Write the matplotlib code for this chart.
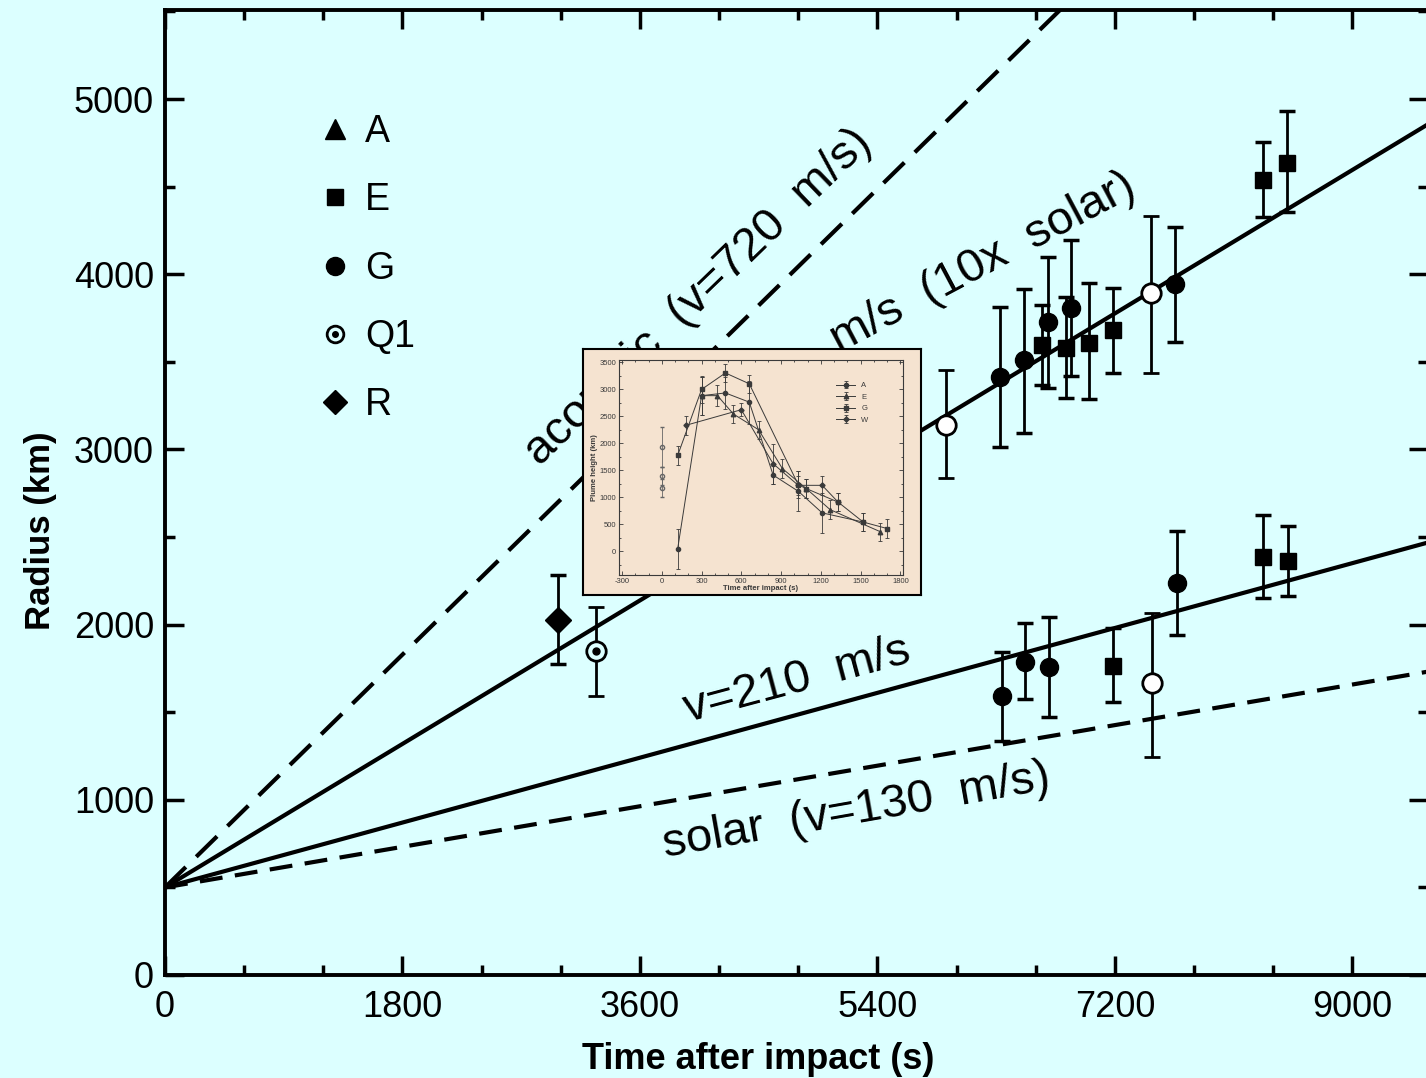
import matplotlib.pyplot as plt
from matplotlib.lines import Line2D
from matplotlib.ticker import MultipleLocator

# ---------------- main chart data ----------------
line_t = [0, 9560]
acoustic_t = [0, 6800]
acoustic_r = [500, 5520]     # acoustic (v=720 m/s), dashed
fast_r = [500, 4850]         # ... m/s (10x solar), solid
v210_r = [500, 2466]         # v=210 m/s, solid
solar_r = [500, 1730]        # solar (v=130 m/s), dashed

E_t = [6647, 6829, 7003, 7185, 8322, 8504, 7185, 8322, 8511]
E_r = [3596, 3579, 3607, 3682, 4538, 4635, 1764, 2386, 2363]
E_lo = [228, 286, 320, 246, 212, 280, 206, 234, 200]
E_hi = [228, 290, 343, 239, 217, 297, 217, 240, 200]

G_t = [6329, 6510, 6693, 6867, 7655, 6344, 6518, 6700, 7670]
G_r = [3413, 3510, 3727, 3807, 3944, 1592, 1787, 1758, 2237]
G_lo = [399, 416, 377, 390, 331, 256, 212, 285, 296]
G_hi = [400, 406, 371, 388, 325, 252, 222, 285, 297]

open_t = [5919, 7473, 7480]
open_r = [3139, 3893, 1667]
open_lo = [302, 457, 423]
open_hi = [314, 439, 399]

Q1_t = [3267]
Q1_r = [1849]
Q1_lo = [257]
Q1_hi = [251]

R_t = [2979]
R_r = [2026]
R_lo = [251]
R_hi = [257]

# ---------------- inset data (plume height) ----------------
inA_t = [120, 300, 480, 660, 840, 1030, 1210, 1520]
inA_r = [50, 2880, 2930, 2760, 1410, 1110, 710, 540]
inA_e = [370, 350, 300, 400, 170, 370, 370, 170]
inE_t = [300, 420, 540, 730, 910, 1090, 1270, 1650]
inE_r = [2880, 2880, 2540, 2250, 1530, 1160, 770, 360]
inE_e = [350, 200, 170, 170, 170, 170, 170, 170]
inG_t = [120, 300, 480, 660, 1030, 1090, 1330, 1520, 1700]
inG_r = [1775, 2995, 3300, 3100, 1230, 1160, 910, 540, 420]
inG_e = [170, 250, 170, 170, 250, 170, 170, 170, 170]
inW_t = [180, 600, 840, 1030, 1210, 1330]
inW_r = [2330, 2620, 1620, 1220, 1220, 910]
inW_e = [170, 120, 370, 170, 170, 170]
in0_t = [0, 0, 0]
in0_r = [1930, 1390, 1170]
in0_e = [370, 170, 170]

bg = '#dcffff'
beige = '#f5e3d0'

plt.rcParams['font.family'] = ['Liberation Sans', 'DejaVu Sans']
plt.rcParams['axes.unicode_minus'] = False

fig = plt.figure(figsize=(14.26, 10.78), dpi=100)
fig.patch.set_facecolor(bg)
ax = fig.add_axes([165/1426, 1 - 975/1078, (1428 - 165)/1426, (975 - 10)/1078])
ax.set_facecolor(bg)

# model lines
ax.plot(acoustic_t, acoustic_r, color='black', lw=3, dashes=(7, 3.5), zorder=2)
ax.plot(line_t, fast_r, color='black', lw=3, zorder=2)
ax.plot(line_t, v210_r, color='black', lw=3, zorder=2)
ax.plot(line_t, solar_r, color='black', lw=3, dashes=(5.5, 3), zorder=2)

eb = dict(color='black', capsize=6, elinewidth=2, capthick=2.5, ls='none', zorder=3)
ax.errorbar(E_t, E_r, yerr=[E_lo, E_hi], fmt='s', ms=11, **eb)
ax.errorbar(G_t, G_r, yerr=[G_lo, G_hi], fmt='o', ms=13, **eb)
ax.errorbar(open_t, open_r, yerr=[open_lo, open_hi], fmt='o', ms=14,
            mfc='white', mec='black', mew=2, **eb)
ax.errorbar(Q1_t, Q1_r, yerr=[Q1_lo, Q1_hi], fmt='o', ms=14,
            mfc=bg, mec='black', mew=2, **eb)
ax.plot(Q1_t, Q1_r, 'o', color='black', ms=5, zorder=4)
ax.errorbar(R_t, R_r, yerr=[R_lo, R_hi], fmt='D', ms=13, **eb)

# rotated line annotations
tk = dict(fontsize=34, rotation_mode='anchor', ha='left', va='baseline', zorder=2)
ax.text(2842, 2900, 'acoustic  (v=720  m/s)', rotation=44, **tk)
ax.text(5110, 3550, 'm/s  (10x  solar)', rotation=28, **tk)
ax.text(3964, 1444, 'v=210  m/s', rotation=15, **tk)
ax.text(3790, 674, 'solar  (v=130  m/s)', rotation=10, **tk)

ax.set_xlim(0, 9573)
ax.set_ylim(0, 5508)
ax.set_xticks([0, 1800, 3600, 5400, 7200, 9000])
ax.set_yticks([0, 1000, 2000, 3000, 4000, 5000])
ax.xaxis.set_minor_locator(MultipleLocator(600))
ax.yaxis.set_minor_locator(MultipleLocator(500))
ax.tick_params(which='both', direction='in', top=True, right=True, width=2.5)
ax.tick_params(which='major', length=14, labelsize=26)
ax.tick_params(which='minor', length=7)
ax.tick_params(axis='y', pad=8)
ax.tick_params(axis='x', pad=11)
for s in ax.spines.values():
    s.set_linewidth(2.8)

ax.set_xlabel('Time after impact (s)', fontsize=26, fontweight='bold')
ax.xaxis.set_label_coords(0.4695, -0.069)
ax.set_ylabel('Radius (km)', fontsize=25, fontweight='bold')
ax.yaxis.set_label_coords(-0.0855, 0.46)

handles = [
    Line2D([], [], ls='none', marker='^', ms=14, color='black'),
    Line2D([], [], ls='none', marker='s', ms=11, color='black'),
    Line2D([], [], ls='none', marker='o', ms=13, color='black'),
    (Line2D([], [], ls='none', marker='o', ms=12, mfc=bg, mec='black', mew=2),
     Line2D([], [], ls='none', marker='o', ms=4, color='black')),
    Line2D([], [], ls='none', marker='D', ms=12, color='black'),
]
ax.legend(handles, ['A', 'E', 'G', 'Q1', 'R'], loc='upper left',
          bbox_to_anchor=(0.096, 0.927), frameon=False, fontsize=27,
          handlelength=0.8, handletextpad=0.4, labelspacing=0.86)

# ---------------- inset ----------------
frame = fig.add_axes([583/1426, 1 - 595/1078, (921 - 583)/1426, (595 - 349)/1078])
frame.set_facecolor(beige)
frame.set_xticks([])
frame.set_yticks([])
for s in frame.spines.values():
    s.set_linewidth(1.5)

ins = fig.add_axes([619/1426, 1 - 575/1078, (903 - 619)/1426, (575 - 360)/1078])
ins.set_facecolor('none')
ic = '#3a3a3a'
ie = dict(color=ic, lw=0.7, capsize=1.5, elinewidth=0.6, capthick=0.6)
ins.errorbar(inA_t, inA_r, yerr=inA_e, fmt='-o', ms=3, label='A', **ie)
ins.errorbar(inE_t, inE_r, yerr=inE_e, fmt='-^', ms=3.2, label='E', **ie)
ins.errorbar(inG_t, inG_r, yerr=inG_e, fmt='-s', ms=3, label='G', **ie)
ins.errorbar(inW_t, inW_r, yerr=inW_e, fmt='-D', ms=2.6, label='W', **ie)
ins.errorbar(in0_t, in0_r, yerr=in0_e, fmt='o', ms=3, mfc='none', ls='none',
             color='#666666', lw=0.6, capsize=1.5, elinewidth=0.6)
ins.set_xlim(-323, 1820)
ins.set_ylim(-440, 3540)
ins.set_xticks([-300, 0, 300, 600, 900, 1200, 1500, 1800])
ins.set_yticks([0, 500, 1000, 1500, 2000, 2500, 3000, 3500])
ins.xaxis.set_minor_locator(MultipleLocator(100))
ins.yaxis.set_minor_locator(MultipleLocator(250))
ins.tick_params(which='both', direction='in', top=True, right=True, width=0.6,
                colors=ic, labelsize=5.5, pad=2)
ins.tick_params(which='major', length=3)
ins.tick_params(which='minor', length=1.5)
for s in ins.spines.values():
    s.set_linewidth(0.8)
    s.set_color(ic)
ins.set_xlabel('Time after impact (s)', fontsize=5.5, fontweight='bold', color=ic, labelpad=0)
ins.set_ylabel('Plume height (km)', fontsize=5.5, fontweight='bold', color=ic, labelpad=1)
ins.legend(loc='upper left', bbox_to_anchor=(0.74, 0.93), frameon=False,
           fontsize=5.5, handlelength=2.5, labelspacing=0.55, labelcolor=ic)

fig.savefig('out.png', dpi=100, facecolor=bg)
